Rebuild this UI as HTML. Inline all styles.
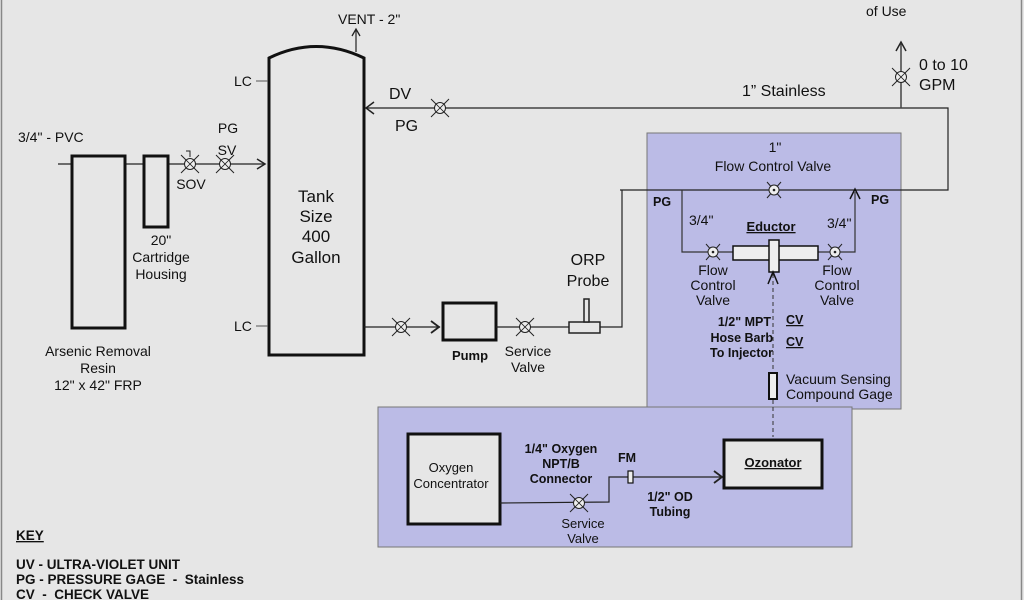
<!DOCTYPE html>
<html><head><meta charset="utf-8"><style>
html,body{margin:0;padding:0;background:#e6e6e6;}
svg{display:block;}
text{font-family:"Liberation Sans",Arial,sans-serif;fill:#111;}
.n{font-size:14px;}
.b{font-size:12.5px;font-weight:bold;}
</style></head><body>
<svg width="1024" height="600" viewBox="0 0 1024 600" xmlns="http://www.w3.org/2000/svg">
<defs>
<g id="v"><line x1="-9" y1="-9" x2="9" y2="9" stroke="#222" stroke-width="1"/><line x1="-9" y1="9" x2="9" y2="-9" stroke="#222" stroke-width="1"/><circle r="5.5" fill="#eee" stroke="#222" stroke-width="1"/><line x1="-3.8" y1="-3.8" x2="3.8" y2="3.8" stroke="#222" stroke-width="0.8"/><line x1="-3.8" y1="3.8" x2="3.8" y2="-3.8" stroke="#222" stroke-width="0.8"/></g>
<g id="fv"><line x1="-7" y1="-8" x2="7" y2="8" stroke="#222" stroke-width="1"/><line x1="-7" y1="8" x2="7" y2="-8" stroke="#222" stroke-width="1"/><circle r="5" fill="#eee" stroke="#222" stroke-width="1"/><circle r="1.3" fill="#222"/></g>
</defs>
<rect width="1024" height="600" fill="#e6e6e6"/>
<line x1="1.5" y1="0" x2="1.5" y2="600" stroke="#888" stroke-width="1.5"/>
<line x1="1021.5" y1="0" x2="1021.5" y2="600" stroke="#888" stroke-width="1.5"/>

<rect x="647" y="133" width="254" height="276" fill="#bbbbe6" stroke="#777" stroke-width="1"/>
<rect x="378" y="407" width="474" height="140" fill="#bbbbe6" stroke="#777" stroke-width="1"/>

<line x1="58" y1="164" x2="264" y2="164" stroke="#222" stroke-width="1.2"/>
<path d="M257,159 L265,164 L257,169" fill="none" stroke="#222" stroke-width="1.5"/>
<rect x="72" y="156" width="53" height="172" fill="#e6e6e6" stroke="#111" stroke-width="3"/>
<rect x="144" y="156" width="24" height="71" fill="#e6e6e6" stroke="#111" stroke-width="3"/>
<use href="#v" x="190" y="164"/>
<path d="M186,151 L190,151 L190,157" fill="none" stroke="#222" stroke-width="1"/>
<use href="#v" x="225" y="164"/>
<text class="n" x="18" y="142">3/4" - PVC</text>
<text class="n" x="228" y="133" text-anchor="middle">PG</text>
<text class="n" x="227" y="155" text-anchor="middle">SV</text>
<text class="n" x="191" y="189" text-anchor="middle">SOV</text>
<text class="n" x="161" y="245" text-anchor="middle">20"</text>
<text class="n" x="161" y="262" text-anchor="middle">Cartridge</text>
<text class="n" x="161" y="279" text-anchor="middle">Housing</text>
<text class="n" x="98" y="356" text-anchor="middle">Arsenic Removal</text>
<text class="n" x="98" y="373" text-anchor="middle">Resin</text>
<text class="n" x="98" y="390" text-anchor="middle">12" x 42" FRP</text>

<path d="M269,355 L269,58 Q316,35 364,58 L364,355 Z" fill="#e6e6e6" stroke="#111" stroke-width="3"/>
<line x1="356" y1="52" x2="356" y2="30" stroke="#222" stroke-width="1.2"/>
<path d="M352,36 L356,29 L360,36" fill="none" stroke="#222" stroke-width="1.3"/>
<text class="n" x="338" y="24">VENT - 2"</text>
<line x1="256" y1="81" x2="268" y2="81" stroke="#555" stroke-width="1"/>
<text class="n" x="234" y="86">LC</text>
<line x1="256" y1="326" x2="268" y2="326" stroke="#555" stroke-width="1"/>
<text class="n" x="234" y="331">LC</text>
<text x="316" y="202" text-anchor="middle" style="font-size:17px">Tank</text>
<text x="316" y="222" text-anchor="middle" style="font-size:17px">Size</text>
<text x="316" y="242" text-anchor="middle" style="font-size:17px">400</text>
<text x="316" y="263" text-anchor="middle" style="font-size:17px">Gallon</text>

<polyline points="366,108 948,108 948,190 620,190" fill="none" stroke="#222" stroke-width="1.2"/>
<path d="M374,102 L366,108 L374,114" fill="none" stroke="#222" stroke-width="1.5"/>
<use href="#v" x="440" y="108"/>
<text x="389" y="99" style="font-size:16px">DV</text>
<text x="395" y="131" style="font-size:16px">PG</text>
<text x="742" y="96" style="font-size:16px">1” Stainless</text>
<line x1="901" y1="108" x2="901" y2="44" stroke="#444" stroke-width="1.5"/>
<path d="M896,51 L901,42 L906,51" fill="none" stroke="#222" stroke-width="1.5"/>
<use href="#v" x="901" y="77"/>
<text x="919" y="70" style="font-size:16px">0 to 10</text>
<text x="919" y="90" style="font-size:16px">GPM</text>
<text class="n" x="866" y="16">of Use</text>
<text class="n" x="866" y="0">To Points</text>

<line x1="364" y1="327" x2="440" y2="327" stroke="#222" stroke-width="1.2"/>
<path d="M431,321 L439,327 L431,333" fill="none" stroke="#222" stroke-width="1.8"/>
<use href="#v" x="401" y="327"/>
<rect x="443" y="303" width="53" height="37" fill="#e6e6e6" stroke="#111" stroke-width="3"/>
<polyline points="496,327 569,327" fill="none" stroke="#222" stroke-width="1.2"/>
<use href="#v" x="525" y="327"/>
<polyline points="600,327 622,327 622,190" fill="none" stroke="#222" stroke-width="1.2"/>
<rect x="569" y="322" width="31" height="11" fill="#e6e6e6" stroke="#222" stroke-width="1.5"/>
<rect x="584" y="299" width="5" height="23" fill="#e6e6e6" stroke="#222" stroke-width="1.5"/>
<text x="470" y="360" text-anchor="middle" style="font-size:13px;font-weight:bold">Pump</text>
<text class="n" x="528" y="356" text-anchor="middle">Service</text>
<text class="n" x="528" y="372" text-anchor="middle">Valve</text>
<text x="588" y="265" text-anchor="middle" style="font-size:16px">ORP</text>
<text x="588" y="286" text-anchor="middle" style="font-size:16px">Probe</text>

<use href="#fv" x="774" y="190"/>
<text class="n" x="775" y="152" text-anchor="middle">1"</text>
<text class="n" x="773" y="171" text-anchor="middle">Flow Control Valve</text>
<text class="b" x="653" y="206">PG</text>
<text class="b" x="871" y="204">PG</text>
<polyline points="682,190 682,252 733,252" fill="none" stroke="#333" stroke-width="1.2"/>
<polyline points="818,252 855,252 855,192" fill="none" stroke="#333" stroke-width="1.2"/>
<path d="M850,199 L855,189 L860,199" fill="none" stroke="#111" stroke-width="1.5"/>
<use href="#fv" x="713" y="252"/>
<use href="#fv" x="835" y="252"/>
<text class="n" x="689" y="225">3/4"</text>
<text class="n" x="827" y="228">3/4"</text>
<text x="771" y="231" text-anchor="middle" style="font-size:13px;font-weight:bold;text-decoration:underline">Eductor</text>
<rect x="733" y="246" width="85" height="14" fill="#eee" stroke="#111" stroke-width="1.5"/>
<rect x="769" y="240" width="10" height="32" fill="#eee" stroke="#111" stroke-width="1.5"/>
<line x1="773" y1="274" x2="773" y2="437" stroke="#333" stroke-width="1" stroke-dasharray="4,3"/>
<path d="M768,284 L773,272 L778,284" fill="none" stroke="#111" stroke-width="1.5"/>
<text class="n" x="713" y="275" text-anchor="middle">Flow</text>
<text class="n" x="713" y="290" text-anchor="middle">Control</text>
<text class="n" x="713" y="305" text-anchor="middle">Valve</text>
<text class="n" x="837" y="275" text-anchor="middle">Flow</text>
<text class="n" x="837" y="290" text-anchor="middle">Control</text>
<text class="n" x="837" y="305" text-anchor="middle">Valve</text>
<text class="b" x="771" y="326" text-anchor="end">1/2" MPT</text>
<text class="b" x="773" y="342" text-anchor="end">Hose Barb</text>
<text class="b" x="773" y="357" text-anchor="end">To Injector</text>
<text class="b" x="786" y="324" style="text-decoration:underline">CV</text>
<text class="b" x="786" y="346" style="text-decoration:underline">CV</text>
<rect x="769" y="373" width="8" height="26" fill="#eee" stroke="#111" stroke-width="2"/>
<text class="n" x="786" y="384">Vacuum Sensing</text>
<text class="n" x="786" y="399">Compound Gage</text>

<rect x="408" y="434" width="92" height="90" fill="#e6e6e6" stroke="#111" stroke-width="3"/>
<text class="n" x="451" y="472" text-anchor="middle" style="font-size:13px">Oxygen</text>
<text class="n" x="451" y="488" text-anchor="middle" style="font-size:13px">Concentrator</text>
<polyline points="500,503 609,502 609,477 628,477" fill="none" stroke="#222" stroke-width="1.2"/>
<use href="#v" x="579" y="503"/>
<rect x="628" y="471" width="5" height="12" fill="#eee" stroke="#111" stroke-width="1.2"/>
<line x1="633" y1="477" x2="722" y2="477" stroke="#222" stroke-width="1.2"/>
<path d="M714,471 L722,477 L714,483" fill="none" stroke="#222" stroke-width="1.8"/>
<rect x="724" y="440" width="98" height="48" fill="#e6e6e6" stroke="#111" stroke-width="3"/>
<text x="773" y="467" text-anchor="middle" style="font-size:13px;font-weight:bold;text-decoration:underline">Ozonator</text>
<text class="b" x="561" y="453" text-anchor="middle">1/4" Oxygen</text>
<text class="b" x="561" y="468" text-anchor="middle">NPT/B</text>
<text class="b" x="561" y="483" text-anchor="middle">Connector</text>
<text class="b" x="627" y="462" text-anchor="middle">FM</text>
<text class="b" x="670" y="501" text-anchor="middle">1/2" OD</text>
<text class="b" x="670" y="516" text-anchor="middle">Tubing</text>
<text class="n" x="583" y="528" text-anchor="middle" style="font-size:13px">Service</text>
<text class="n" x="583" y="543" text-anchor="middle" style="font-size:13px">Valve</text>

<text x="16" y="540" style="font-size:13.5px;font-weight:bold;text-decoration:underline">KEY</text>
<text x="16" y="569" style="font-size:13.5px;font-weight:bold">UV - ULTRA-VIOLET UNIT</text>
<text x="16" y="584" style="font-size:13.5px;font-weight:bold">PG - PRESSURE GAGE &#160;- &#160;Stainless</text>
<text x="16" y="599" style="font-size:13.5px;font-weight:bold">CV &#160;- &#160;CHECK VALVE</text>
</svg>
</body></html>
